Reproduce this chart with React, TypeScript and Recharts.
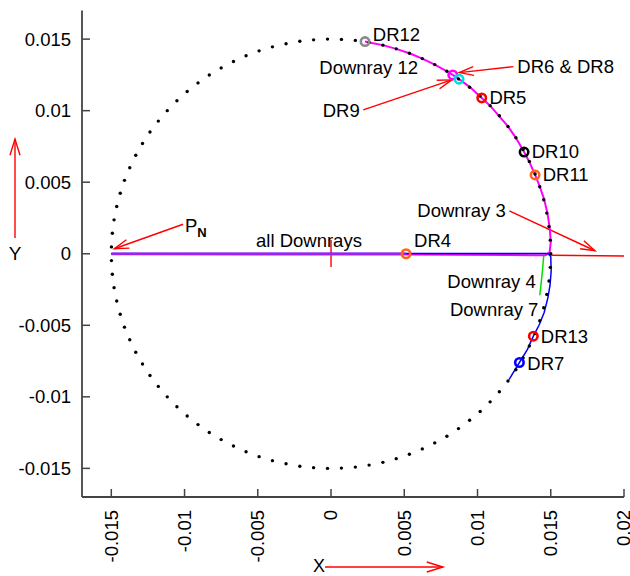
import React from "react";
import { ScatterChart, Scatter, XAxis, YAxis, ReferenceLine } from "recharts";

const X_TICKS = [-0.015, -0.01, -0.005, 0, 0.005, 0.01, 0.015, 0.02];
const Y_TICKS = [-0.015, -0.01, -0.005, 0, 0.005, 0.01, 0.015];

// dotted reference circle, r = 0.015 (upper half then lower half)
const CIRCLE_UPPER = [
  [0.015, 0], [0.01497, 0.00095], [0.01488, 0.0019], [0.01473, 0.00284], [0.01452, 0.00377],
  [0.01425, 0.00468], [0.01393, 0.00557], [0.01354, 0.00645], [0.01311, 0.00729], [0.01262, 0.00811],
  [0.01208, 0.00889], [0.01149, 0.00964], [0.01086, 0.01035], [0.01018, 0.01102], [0.00946, 0.01164],
  [0.0087, 0.01222], [0.00791, 0.01275], [0.00708, 0.01322], [0.00623, 0.01364], [0.00535, 0.01401],
  [0.00445, 0.01432], [0.00354, 0.01458], [0.0026, 0.01477], [0.00166, 0.01491], [0.00071, 0.01498],
  [-0.00024, 0.015], [-0.00119, 0.01495], [-0.00213, 0.01485], [-0.00307, 0.01468], [-0.004, 0.01446],
  [-0.00491, 0.01418], [-0.0058, 0.01384], [-0.00666, 0.01344], [-0.0075, 0.01299], [-0.00831, 0.01249],
  [-0.00908, 0.01194], [-0.00982, 0.01134], [-0.01052, 0.01069], [-0.01118, 0.01], [-0.01179, 0.00927],
  [-0.01236, 0.00851], [-0.01287, 0.00771], [-0.01333, 0.00688], [-0.01374, 0.00601], [-0.0141, 0.00513],
  [-0.01439, 0.00423], [-0.01463, 0.0033], [-0.01481, 0.00237], [-0.01493, 0.00143], [-0.01499, 0.00048],
];
const CIRCLE_LOWER = [
  [-0.01499, -0.00048], [-0.01493, -0.00143], [-0.01481, -0.00237], [-0.01463, -0.0033], [-0.01439, -0.00423],
  [-0.0141, -0.00513], [-0.01374, -0.00601], [-0.01333, -0.00688], [-0.01287, -0.00771], [-0.01236, -0.00851],
  [-0.01179, -0.00927], [-0.01118, -0.01], [-0.01052, -0.01069], [-0.00982, -0.01134], [-0.00908, -0.01194],
  [-0.00831, -0.01249], [-0.0075, -0.01299], [-0.00666, -0.01344], [-0.0058, -0.01384], [-0.00491, -0.01418],
  [-0.004, -0.01446], [-0.00307, -0.01468], [-0.00213, -0.01485], [-0.00119, -0.01495], [-0.00024, -0.015],
  [0.00071, -0.01498], [0.00166, -0.01491], [0.0026, -0.01477], [0.00354, -0.01458], [0.00445, -0.01432],
  [0.00535, -0.01401], [0.00623, -0.01364], [0.00708, -0.01322], [0.00791, -0.01275], [0.0087, -0.01222],
  [0.00946, -0.01164], [0.01018, -0.01102], [0.01086, -0.01035], [0.01149, -0.00964], [0.01208, -0.00889],
  [0.01262, -0.00811], [0.01311, -0.00729], [0.01354, -0.00645], [0.01393, -0.00557], [0.01425, -0.00468],
  [0.01452, -0.00377], [0.01473, -0.00284], [0.01488, -0.0019], [0.01497, -0.00095],
];

// ray paths
const DOWNRAY_12 = [
  [-0.015, -0.00004], [0.005, -0.00005], [0.014, -0.0001], [0.01465, -0.0001], [0.01492, 0.0001],
  [0.015, 0.0008], [0.01493, 0.0018], [0.01478, 0.0028], [0.01455, 0.0038], [0.01425, 0.0047],
  [0.01393, 0.00551], [0.01355, 0.0064], [0.01318, 0.00711], [0.01262, 0.0081], [0.01208, 0.0089],
  [0.01149, 0.0096], [0.01086, 0.01035], [0.01029, 0.01089], [0.0095, 0.01163], [0.00874, 0.0122],
  [0.00831, 0.0125], [0.00791, 0.01275], [0.00708, 0.01322], [0.00623, 0.01364], [0.00535, 0.01401],
  [0.00445, 0.01432], [0.00354, 0.01458], [0.0026, 0.01477], [0.00232, 0.01483],
];
const DOWNRAY_7 = [
  [-0.015, 0.00002], [0.0148, 0.00002], [0.015, -0.0002], [0.01503, -0.0012], [0.01495, -0.0022],
  [0.0148, -0.0031], [0.01455, -0.0041], [0.0142, -0.005], [0.01381, -0.00576], [0.0134, -0.0067],
  [0.01286, -0.0076], [0.01215, -0.0088],
];
const DOWNRAY_4 = [[0.01452, -0.00014], [0.01445, -0.001], [0.01435, -0.002], [0.01425, -0.0029]];
const DOWNRAY_3 = [[0.01503, -0.0001], [0.02, -0.00015]];
const ALL_DOWNRAYS = [[-0.015, 0], [0.0051, 0]];

const MARKERS = [
  { name: "DR12", x: 0.00232, y: 0.01483 },
  { name: "DR9", x: 0.00831, y: 0.0125 },
  { name: "DR6 & DR8", x: 0.00874, y: 0.0122 },
  { name: "DR5", x: 0.01029, y: 0.01089 },
  { name: "DR10", x: 0.01318, y: 0.00711 },
  { name: "DR11", x: 0.01393, y: 0.00551 },
  { name: "DR4", x: 0.00512, y: 0 },
  { name: "DR13", x: 0.01381, y: -0.00576 },
  { name: "DR7", x: 0.01286, y: -0.0076 },
];

const MARKER_COLORS: Record<string, string> = {
  DR12: "#8a8a8a",
  DR9: "#ff00ff",
  "DR6 & DR8": "#00dede",
  DR5: "#ff0000",
  DR10: "#000000",
  DR11: "#ff6418",
  DR4: "#ff6418",
  DR13: "#ff0000",
  DR7: "#0000ff",
};

const LABELS = [
  { text: "DR12", x: 0.00285, y: 0.01488 },
  { text: "Downray 12", x: -0.0008, y: 0.01257 },
  { text: "DR6 & DR8", x: 0.01272, y: 0.01266 },
  { text: "DR9", x: -0.00057, y: 0.00958 },
  { text: "DR5", x: 0.01081, y: 0.01047 },
  { text: "DR10", x: 0.0137, y: 0.00672 },
  { text: "DR11", x: 0.01445, y: 0.00509 },
  { text: "Downray 3", x: 0.00589, y: 0.00259 },
  { text: "all Downrays", x: -0.00512, y: 0.00049 },
  { text: "DR4", x: 0.00567, y: 0.00049 },
  { text: "Downray 4", x: 0.00794, y: -0.0024 },
  { text: "Downray 7", x: 0.00812, y: -0.00436 },
  { text: "DR13", x: 0.01432, y: -0.00623 },
  { text: "DR7", x: 0.0134, y: -0.00809 },
  { text: "P", sub: "N", x: -0.00997, y: 0.00154 },
];

// annotation arrows: from -> to
const ARROWS = [
  [-0.0101, 0.00206, -0.01479, 0.00035],
  [0.01245, 0.01308, 0.00876, 0.01266],
  [0.0022, 0.01005, 0.00824, 0.01215],
  [0.01217, 0.00299, 0.01802, 0.00021],
];
const RED_MARK = [0, 0.00096, 0, -0.00093];

const FONT = "'Liberation Sans', Arial, Helvetica, sans-serif";
const FRAME = "#444444";
const RED = "#ff0000";

const pts = (arr: number[][]) => arr.map(([x, y]) => ({ x, y }));
const Empty = () => <g />;

function LeftTick({ x, y, payload }: any) {
  return (
    <g>
      <line x1={x} y1={y} x2={x + 8} y2={y} stroke={FRAME} strokeWidth={1.5} />
      <text x={x - 11} y={y} dy="0.35em" textAnchor="end" fontSize={18.5} fontFamily={FONT} fill="#000">
        {String(payload.value)}
      </text>
    </g>
  );
}

function RightTick({ x, y }: any) {
  return <line x1={x} y1={y} x2={x - 8} y2={y} stroke={FRAME} strokeWidth={1.5} />;
}

function TopTick({ x, y }: any) {
  return <line x1={x} y1={y} x2={x} y2={y + 8} stroke={FRAME} strokeWidth={1.5} />;
}

function BottomTick({ x, y, payload }: any) {
  const ty = y + 13;
  return (
    <g>
      <line x1={x} y1={y} x2={x} y2={y - 8} stroke={FRAME} strokeWidth={1.5} />
      <text
        x={x}
        y={ty}
        dy="0.35em"
        transform={`rotate(-90 ${x} ${ty})`}
        textAnchor="end"
        fontSize={18.5}
        fontFamily={FONT}
        fill="#000"
      >
        {String(payload.value)}
      </text>
    </g>
  );
}

function arrowHead(x1: number, y1: number, x2: number, y2: number, len = 15) {
  const a = Math.atan2(y2 - y1, x2 - x1);
  const h = 0.3;
  const p1 = `${x2 - len * Math.cos(a - h)},${y2 - len * Math.sin(a - h)}`;
  const p2 = `${x2 - len * Math.cos(a + h)},${y2 - len * Math.sin(a + h)}`;
  return `${p1} ${x2},${y2} ${p2}`;
}

function ArrowShape(props: any) {
  const { x1, y1, x2, y2 } = props;
  return (
    <g>
      <line x1={x1} y1={y1} x2={x2} y2={y2} stroke={RED} strokeWidth={1.4} />
      <polyline points={arrowHead(x1, y1, x2, y2)} fill="none" stroke={RED} strokeWidth={1.4} />
    </g>
  );
}

function YLabel({ viewBox }: any) {
  const cx = viewBox.x + 15;
  return (
    <g>
      <line x1={cx} y1={238} x2={cx} y2={139} stroke={RED} strokeWidth={1.4} />
      <polyline points={arrowHead(cx, 238, cx, 139, 17)} fill="none" stroke={RED} strokeWidth={1.4} />
      <text x={cx} y={260} textAnchor="middle" fontSize={19} fontFamily={FONT} fill="#000">
        Y
      </text>
    </g>
  );
}

function XLabel({ viewBox }: any) {
  const left = viewBox.x + 243;
  const y = viewBox.y + 70;
  return (
    <g>
      <text x={left - 6} y={y + 5} textAnchor="middle" fontSize={18} fontFamily={FONT} fill="#000">
        X
      </text>
      <line x1={left} y1={y} x2={left + 118} y2={y} stroke={RED} strokeWidth={1.4} />
      <polyline points={arrowHead(left, y, left + 118, y, 17)} fill="none" stroke={RED} strokeWidth={1.4} />
    </g>
  );
}

function CircleDot({ cx, cy }: any) {
  return <circle cx={cx} cy={cy} r={1.7} fill="#000" />;
}

function Ring({ cx, cy, payload }: any) {
  const c = MARKER_COLORS[payload.name] || "#000";
  return <circle cx={cx} cy={cy} r={4.2} fill="none" stroke={c} strokeWidth={2.6} />;
}

function LabelText({ cx, cy, payload }: any) {
  return (
    <text x={cx} y={cy} fontSize={18.5} fontFamily={FONT} fill="#000">
      {payload.text}
      {payload.sub ? (
        <tspan dy={5} fontSize={13} fontWeight="bold">
          {payload.sub}
        </tspan>
      ) : null}
    </text>
  );
}

export default function App() {
  const lines: [number[][], string, number][] = [
    [DOWNRAY_12, "#ff00ff", 2],
    [DOWNRAY_7, "#0000ff", 1.5],
    [DOWNRAY_4, "#00e000", 1.5],
    [DOWNRAY_3, RED, 1.5],
    [ALL_DOWNRAYS, "#a020f0", 2.5],
  ];
  return (
    <div style={{ position: "absolute", left: 0, top: 0, fontFamily: FONT, background: "#fff" }}>
      <ScatterChart width={630} height={576} margin={{ top: 10.5, right: 6, bottom: 0, left: 0 }}>
        <XAxis
          dataKey="x"
          type="number"
          domain={[-0.017, 0.02]}
          ticks={X_TICKS}
          allowDataOverflow
          interval={0}
          height={79}
          tickSize={0}
          tickMargin={0}
          tick={<BottomTick />}
          axisLine={{ stroke: FRAME, strokeWidth: 1.8 }}
          label={<XLabel />}
        />
        <XAxis
          xAxisId="top"
          orientation="top"
          dataKey="x"
          type="number"
          domain={[-0.017, 0.02]}
          ticks={X_TICKS}
          allowDataOverflow
          interval={0}
          height={0}
          tickSize={0}
          tickMargin={0}
          tick={<TopTick />}
          axisLine={{ stroke: FRAME, strokeWidth: 1.8 }}
        />
        <YAxis
          dataKey="y"
          type="number"
          domain={[-0.017, 0.017]}
          ticks={Y_TICKS}
          allowDataOverflow
          interval={0}
          width={82}
          tickSize={0}
          tickMargin={0}
          tick={<LeftTick />}
          axisLine={{ stroke: FRAME, strokeWidth: 1.8 }}
          label={<YLabel />}
        />
        <YAxis
          yAxisId="right"
          orientation="right"
          dataKey="y"
          type="number"
          domain={[-0.017, 0.017]}
          ticks={Y_TICKS}
          allowDataOverflow
          interval={0}
          width={0}
          tickSize={0}
          tickMargin={0}
          tick={<RightTick />}
          axisLine={{ stroke: FRAME, strokeWidth: 1.8 }}
        />
        {lines.map(([d, color, w], i) => (
          <Scatter
            key={i}
            data={pts(d)}
            line={{ stroke: color, strokeWidth: w }}
            shape={Empty}
            isAnimationActive={false}
          />
        ))}
        <Scatter data={pts(CIRCLE_UPPER)} shape={CircleDot} isAnimationActive={false} />
        <Scatter data={pts(CIRCLE_LOWER)} shape={CircleDot} isAnimationActive={false} />
        <Scatter data={MARKERS} shape={Ring} isAnimationActive={false} />
        <ReferenceLine
          segment={[{ x: RED_MARK[0], y: RED_MARK[1] }, { x: RED_MARK[2], y: RED_MARK[3] }]}
          stroke={RED}
          strokeWidth={1.4}
          ifOverflow="visible"
        />
        {ARROWS.map((a, i) => (
          <ReferenceLine
            key={i}
            segment={[{ x: a[0], y: a[1] }, { x: a[2], y: a[3] }]}
            ifOverflow="visible"
            shape={ArrowShape}
          />
        ))}
        <Scatter data={LABELS} shape={LabelText} isAnimationActive={false} />
      </ScatterChart>
    </div>
  );
}
